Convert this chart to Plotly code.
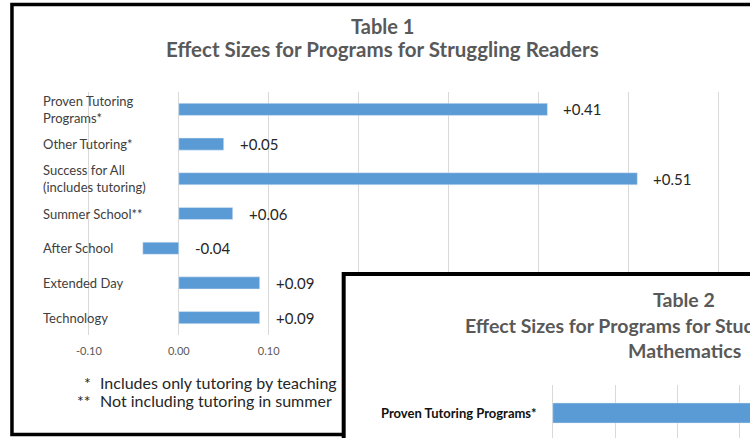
import plotly.graph_objects as go

W, H = 750, 438

# Table 1: reading programs
reading_programs = [
    "Proven Tutoring<br>Programs*",
    "Other Tutoring*",
    "Success for All<br>(includes tutoring)",
    "Summer School**",
    "After School",
    "Extended Day",
    "Technology",
]
reading_effects = [0.41, 0.05, 0.51, 0.06, -0.04, 0.09, 0.09]
reading_ticks = [-0.1, 0.0, 0.1, 0.2, 0.3, 0.4, 0.5, 0.6]
# labels from 0.20 on sit under the Table 2 window
reading_tick_text = ["-0.10", "0.00", "0.10", "", "", "", "", ""]
reading_notes = [
    ("*", "Includes only tutoring by teaching"),
    ("**", "Not including tutoring in summer"),
]

# Table 2: math programs (only the top bar is visible, it runs past the edge)
math_programs = ["Proven Tutoring Programs*"]
math_effects = [0.45]

BLUE = "#5b9bd5"
GRID = "#d9d9d9"
FONT = "Lato"


def px(x):
    return x / W


def py(y):
    return 1 - y / H


def paper_text(text, x, y, size, color, anchor="center"):
    return dict(text=text, x=px(x), y=py(y), xref="paper", yref="paper",
                xanchor=anchor, yanchor="middle", showarrow=False,
                font=dict(size=size, color=color))


fig = go.Figure()

fig.add_trace(go.Bar(
    x=reading_effects, y=reading_programs, orientation="h",
    marker_color=BLUE, width=0.35, xaxis="x", yaxis="y", hoverinfo="skip",
))
# empty trace so the Table 2 window gets its own white background
fig.add_trace(go.Scatter(x=[], y=[], xaxis="x2", yaxis="y2", hoverinfo="skip"))
fig.add_trace(go.Bar(
    x=math_effects, y=math_programs, orientation="h",
    marker_color=BLUE, width=0.36, xaxis="x3", yaxis="y3", hoverinfo="skip",
))

annotations = [
    paper_text("<b>Table 1</b>", 381, 26, 20, "#595959"),
    paper_text("<b>Effect Sizes for Programs for Struggling Readers</b>", 381, 49, 20.5, "#595959"),
]
for name, v in zip(reading_programs, reading_effects):
    annotations.append(dict(text=name, x=px(37), y=name, xref="paper", yref="y",
                            xanchor="left", yanchor="middle", align="left", showarrow=False,
                            font=dict(size=13, color="#404040")))
    annotations.append(dict(text=f"{v:+.2f}", x=max(v, 0), y=name, xref="x", yref="y",
                            xanchor="left", yanchor="middle", xshift=14, showarrow=False,
                            font=dict(size=15, color="#262626")))
for i, (mark, note) in enumerate(reading_notes):
    annotations.append(paper_text(mark, 89, 382 + 18 * i, 16, "#262626", "right"))
    annotations.append(paper_text(note, 95, 382 + 18 * i, 16, "#262626", "left"))

annotations += [
    paper_text("<b>Table 2</b>", 684, 299, 19.5, "#595959"),
    paper_text("<b>Effect Sizes for Programs for Students Struggling in</b>", 684, 325, 19.5, "#595959"),
    paper_text("<b>Mathematics</b>", 684, 350, 19.5, "#595959"),
]
for name in math_programs:
    annotations.append(dict(text=f"<b>{name}</b>", x=px(538), y=name, xref="paper", yref="y3",
                            xanchor="right", yanchor="middle", showarrow=False,
                            font=dict(size=13, color="#111111")))

fig.update_layout(
    width=W, height=H,
    margin=dict(l=0, r=0, t=0, b=0),
    paper_bgcolor="white", plot_bgcolor="white",
    font=dict(family=FONT),
    showlegend=False,
    xaxis=dict(domain=[px(76), 1], range=[-0.1103, 0.6353],
               tickvals=reading_ticks, ticktext=reading_tick_text,
               showgrid=True, gridcolor=GRID, zeroline=False,
               ticks="", ticklabelstandoff=8, tickfont=dict(size=11, color="#595959"),
               anchor="y"),
    yaxis=dict(domain=[py(335), py(92)], type="category", range=[6.5, -0.5],
               showticklabels=False, showgrid=False, zeroline=False, anchor="x"),
    xaxis2=dict(domain=[px(342), 1], range=[0, 1], visible=False, anchor="y2"),
    yaxis2=dict(domain=[0, py(272)], range=[0, 1], visible=False, anchor="x2"),
    xaxis3=dict(domain=[px(550), 1], range=[-0.0027, 0.3163], dtick=0.1, tick0=0,
                showgrid=True, gridcolor=GRID, zeroline=False, showticklabels=False,
                anchor="y3"),
    yaxis3=dict(domain=[0, py(385)], type="category", range=[0.446, -0.5],
                showticklabels=False, showgrid=False, zeroline=False, anchor="x3"),
    annotations=annotations,
    shapes=[
        # Table 1 window frame, hidden under the Table 2 window
        dict(type="rect", xref="paper", yref="paper", x0=px(8), x1=px(780),
             y0=py(434.5), y1=py(4.5), line=dict(color="black", width=3.5), layer="below"),
        # Table 2 window frame
        dict(type="rect", xref="paper", yref="paper", x0=px(341.5), x1=px(780),
             y0=py(460), y1=py(274), line=dict(color="black", width=4), layer="above"),
    ],
)

fig.write_html("out.html", config={"displayModeBar": False},
               post_script="document.body.style.margin = '0px';")
